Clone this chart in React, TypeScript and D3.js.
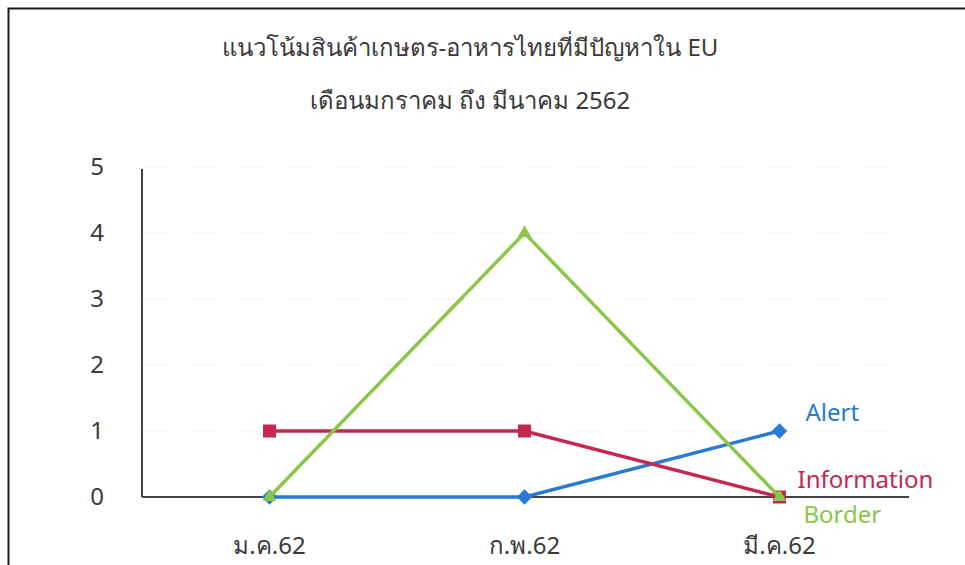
import React from "react";
import * as d3 from "d3";

const categories = ["ม.ค.62", "ก.พ.62", "มี.ค.62"];
const alertValues = [0, 0, 1];
const informationValues = [1, 1, 0];
const borderValues = [0, 4, 0];
const yTicks = [0, 1, 2, 3, 4, 5];
const titleLines = ["แนวโน้มสินค้าเกษตร-อาหารไทยที่มีปัญหาใน EU", "เดือนมกราคม ถึง มีนาคม 2562"];

const series = [
  { name: "Alert", values: alertValues, color: "#2a7ad2", marker: "diamond", labelDx: 26, labelDy: -18 },
  { name: "Information", values: informationValues, color: "#c4284f", marker: "square", labelDx: 18, labelDy: -17 },
  { name: "Border", values: borderValues, color: "#8cc64a", marker: "triangle", labelDx: 24, labelDy: 18 },
];

export default function App() {
  const W = 965, H = 565;
  const x0 = 142, x1 = 907, yTop = 167, yBot = 497;
  const x = d3.scaleBand<string>().domain(categories).range([x0, x1]);
  const y = d3.scaleLinear().domain([0, 5]).range([yBot, yTop]);
  const cx = (c: string) => (x(c) as number) + x.bandwidth() / 2;
  const line = d3.line<number>().x((_, i) => cx(categories[i])).y((v) => y(v));
  const font = "'Noto Sans', 'DejaVu Sans', sans-serif";

  const marker = (kind: string, px: number, py: number, color: string) => {
    if (kind === "square") return <rect x={px - 6.5} y={py - 6.5} width={13} height={13} fill={color} />;
    if (kind === "diamond")
      return <rect x={-5.5} y={-5.5} width={11} height={11} fill={color} transform={`translate(${px},${py}) rotate(45)`} />;
    const s = d3.symbol().type(d3.symbolTriangle).size(80)();
    return <path d={s as string} transform={`translate(${px},${py})`} fill={color} />;
  };

  return (
    <svg width={W} height={H} style={{ position: "absolute", left: 0, top: 0, background: "#fff" }} fontFamily={font}>
      <rect x={0} y={0} width={W} height={H} fill="#fff" />
      <path d={`M8.5,${H} V8.5 H${W}`} fill="none" stroke="#1a1a1a" strokeWidth={2} />
      {titleLines.map((t, i) => (
        <text key={i} x={470} y={56 + i * 53} textAnchor="middle" fontSize={24} fill="#3a3a3a">{t}</text>
      ))}
      {yTicks.filter((t) => t > 0).map((t) => (
        <line key={"g" + t} x1={x0} x2={x1} y1={y(t)} y2={y(t)} stroke="#f4f4f4" strokeWidth={1} strokeDasharray="30 18" />
      ))}
      {yTicks.map((t) => (
        <text key={t} x={97} y={y(t)} dy="0.35em" textAnchor="middle" fontSize={24} fill="#3a3a3a">{t}</text>
      ))}
      <line x1={x0} x2={x0} y1={169} y2={yBot} stroke="#444" strokeWidth={2} />
      <line x1={x0} x2={x1 + 2} y1={yBot} y2={yBot} stroke="#444" strokeWidth={2} />
      {categories.map((c) => (
        <text key={c} x={cx(c)} y={554} textAnchor="middle" fontSize={24} fill="#3a3a3a">{c}</text>
      ))}
      {series.map((s) => (
        <g key={s.name}>
          <path d={line(s.values) as string} fill="none" stroke={s.color} strokeWidth={3.5} />
          {s.values.map((v, i) => (
            <g key={i}>{marker(s.marker, cx(categories[i]), y(v), s.color)}</g>
          ))}
        </g>
      ))}
      {series.map((s) => {
        const last = s.values.length - 1;
        return (
          <text key={"l" + s.name} x={cx(categories[last]) + s.labelDx} y={y(s.values[last]) + s.labelDy} dy="0.35em" fontSize={24} fill={s.color}>{s.name}</text>
        );
      })}
    </svg>
  );
}
